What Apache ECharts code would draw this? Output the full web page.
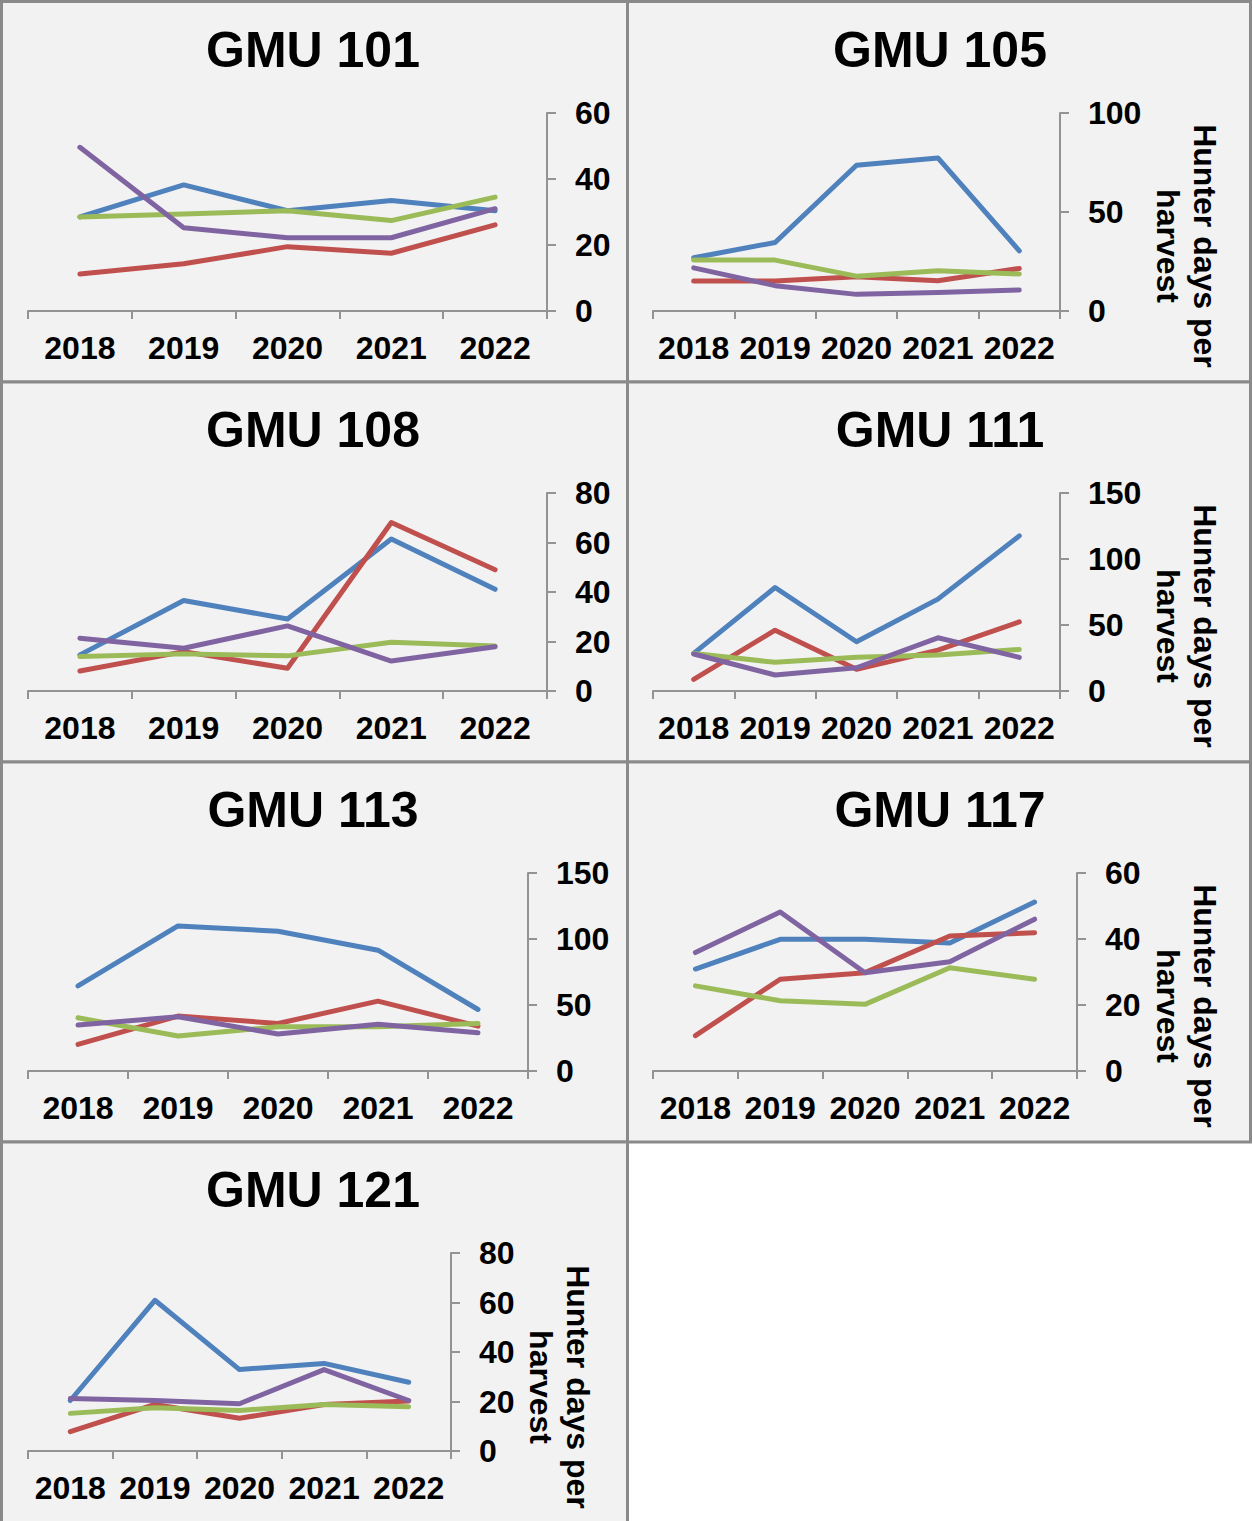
<!DOCTYPE html>
<html>
<head>
<meta charset="utf-8">
<script src="https://cdn.jsdelivr.net/npm/echarts@6/dist/echarts.min.js"></script>
<style>
html,body{margin:0;padding:0;background:#ffffff;}
#chart{width:1252px;height:1521px;}
</style>
</head>
<body>
<div id="chart"></div>
<script>
// ---- data ----
const years = ['2018', '2019', '2020', '2021', '2022'];
const panelTitles = ['GMU 101', 'GMU 105', 'GMU 108', 'GMU 111', 'GMU 113', 'GMU 117', 'GMU 121'];
const yMax = [60, 100, 80, 150, 150, 60, 80];
const yStep = [20, 50, 20, 50, 50, 20, 20];
const axisTitle = 'Hunter days per\nharvest';

// one array per line colour, one row per GMU panel (same order as panelTitles)
const lineBlue = [
  [28.5, 38.2, 30.4, 33.5, 30.4],
  [26.9, 34.6, 73.6, 77.3, 30.4],
  [14.6, 36.6, 29.1, 61.4, 41.1],
  [28.5, 78.4, 37.3, 69.6, 117.5],
  [64.5, 109.9, 105.9, 91.5, 46.6],
  [30.9, 39.9, 39.9, 38.8, 51.2],
  [20.4, 60.9, 32.9, 35.4, 27.8]
];
const lineRed = [
  [11.2, 14.3, 19.5, 17.5, 26.1],
  [15.1, 15.1, 17.3, 15.3, 21.5],
  [8.1, 15.9, 9.2, 68.1, 49.0],
  [8.8, 46.1, 16.4, 31.0, 52.4],
  [20.2, 41.6, 36.0, 52.9, 34.0],
  [10.7, 27.8, 29.8, 40.9, 41.9],
  [7.8, 18.8, 13.2, 18.8, 20.2]
];
const lineGreen = [
  [28.5, 29.4, 30.4, 27.4, 34.5],
  [25.7, 25.7, 17.6, 20.3, 18.7],
  [13.9, 15.0, 14.2, 19.7, 18.2],
  [28.5, 21.7, 25.5, 27.2, 31.5],
  [40.3, 26.5, 33.5, 33.5, 36.0],
  [25.8, 21.3, 20.2, 31.3, 27.8],
  [15.2, 17.5, 16.4, 18.8, 17.9]
];
const linePurple = [
  [49.6, 25.2, 22.2, 22.2, 31.0],
  [21.8, 12.8, 8.4, 9.4, 10.6],
  [21.3, 17.3, 26.3, 12.1, 17.9],
  [28.0, 12.1, 17.6, 40.3, 25.5],
  [34.8, 41.1, 28.0, 35.5, 29.0],
  [35.9, 48.2, 29.8, 33.1, 46.0],
  [21.2, 20.4, 19.1, 32.9, 20.4]
];

// ---- layout / style ----
const FONT = '"Liberation Sans", Arial, sans-serif';
const colors = ['#4F81BD', '#C0504D', '#9BBB59', '#8064A2'];
const lineSets = [lineBlue, lineRed, lineGreen, linePurple];
const panels = [
  {x: 1.5,   y: 1.5,  w: 626, h: 380.5},
  {x: 627.5, y: 1.5,  w: 623, h: 380.5},
  {x: 1.5,   y: 382,  w: 626, h: 380},
  {x: 627.5, y: 382,  w: 623, h: 380},
  {x: 1.5,   y: 762,  w: 626, h: 380},
  {x: 627.5, y: 762,  w: 623, h: 380},
  {x: 1.5,   y: 1142, w: 626, h: 390}
];
const grids = [
  {left: 28,  top: 113,  width: 519, height: 198},
  {left: 653, top: 113,  width: 407, height: 198},
  {left: 28,  top: 493,  width: 519, height: 198},
  {left: 653, top: 493,  width: 407, height: 198},
  {left: 28,  top: 873,  width: 500, height: 198},
  {left: 653, top: 873,  width: 424, height: 198},
  {left: 28,  top: 1253, width: 423, height: 198}
];
const titlePos = [
  {x: 313, y: 50}, {x: 940, y: 50},
  {x: 313, y: 430}, {x: 940, y: 430},
  {x: 313, y: 810}, {x: 940, y: 810},
  {x: 313, y: 1190}
];
const axisTitlePos = [
  null, {x: 1186, y: 246},
  null, {x: 1186, y: 626},
  null, {x: 1186, y: 1006},
  {x: 559, y: 1387}
];

const axisGray = '#939393';
const graphic = [];
panels.forEach(p => {
  graphic.push({
    type: 'rect', z: -10, silent: true,
    shape: {x: p.x, y: p.y, width: p.w, height: p.h},
    style: {fill: '#F2F2F2', stroke: '#8A8A8A', lineWidth: 3}
  });
});
axisTitlePos.forEach(p => {
  if (!p) return;
  graphic.push({
    type: 'text', z: 100, x: p.x, y: p.y, rotation: -Math.PI / 2,
    style: {
      text: axisTitle, fill: '#000',
      font: 'bold 32px ' + FONT,
      align: 'center', verticalAlign: 'middle',
      textAlign: 'center', textVerticalAlign: 'middle',
      lineHeight: 37
    }
  });
});

const title = panelTitles.map((t, i) => ({
  text: t,
  left: titlePos[i].x,
  top: titlePos[i].y,
  padding: 0,
  textAlign: 'center',
  textVerticalAlign: 'middle',
  textStyle: {fontFamily: FONT, fontWeight: 'bold', fontSize: 50, color: '#000'}
}));

const xAxis = grids.map((g, i) => ({
  type: 'category', gridIndex: i, data: years, boundaryGap: true,
  axisLine: {show: true, lineStyle: {color: axisGray, width: 2}},
  axisTick: {show: true, length: 8, lineStyle: {color: axisGray, width: 2}},
  axisLabel: {interval: 0, margin: 21, color: '#000', fontFamily: FONT, fontWeight: 'bold', fontSize: 32},
  splitLine: {show: false}
}));
const yAxis = grids.map((g, i) => ({
  type: 'value', gridIndex: i, position: 'right',
  min: 0, max: yMax[i], interval: yStep[i],
  axisLine: {show: true, lineStyle: {color: axisGray, width: 2}},
  axisTick: {show: true, inside: false, length: 9, lineStyle: {color: axisGray, width: 2}},
  axisLabel: {margin: 28, color: '#000', fontFamily: FONT, fontWeight: 'bold', fontSize: 32},
  splitLine: {show: false}
}));
const series = [];
grids.forEach((g, i) => {
  lineSets.forEach((set, k) => {
    series.push({
      type: 'line', xAxisIndex: i, yAxisIndex: i,
      data: set[i], symbol: 'none', showSymbol: false, smooth: false,
      lineStyle: {color: colors[k], width: 5, join: 'round', cap: 'round'},
      itemStyle: {color: colors[k]},
      emphasis: {disabled: true},
      animation: false
    });
  });
});

const chart = echarts.init(document.getElementById('chart'), null, {renderer: 'svg', width: 1252, height: 1521});
chart.setOption({
  backgroundColor: '#FFFFFF',
  animation: false,
  title: title,
  graphic: graphic,
  grid: grids.map(g => Object.assign({containLabel: false}, g)),
  xAxis: xAxis,
  yAxis: yAxis,
  series: series
});
</script>
</body>
</html>
